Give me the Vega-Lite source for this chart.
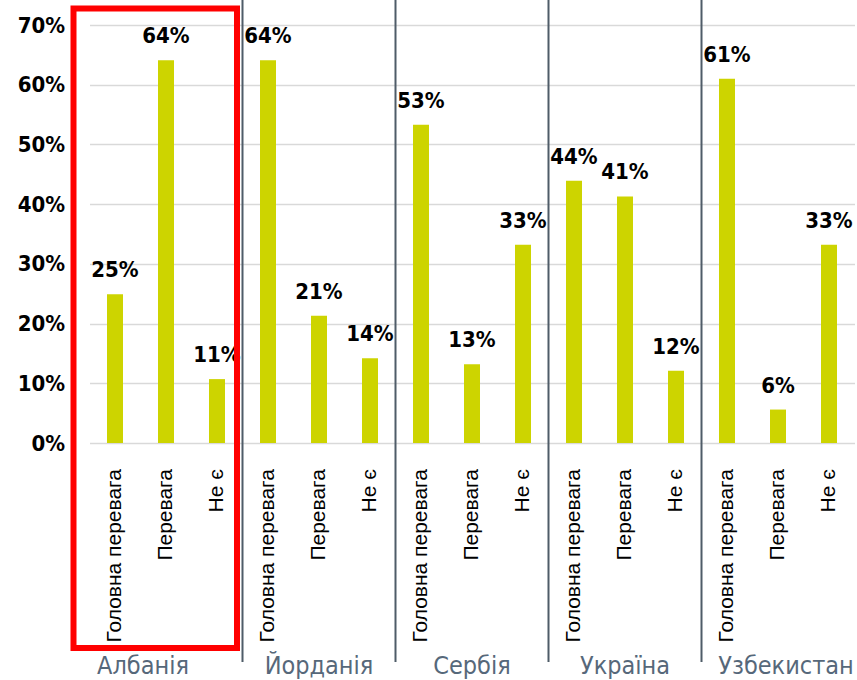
{
  "$schema": "https://vega.github.io/schema/vega-lite/v6.json",
  "width": 765,
  "height": 418,
  "autosize": {"type": "none"},
  "padding": {"left": 89.5, "top": 25, "right": 2.5, "bottom": 237},
  "background": "white",
  "config": {"view": {"stroke": null}},
  "datasets": {
    "bars": [
      {"country": "Албанія", "category": "Головна перевага", "value": 0.249},
      {"country": "Албанія", "category": "Перевага", "value": 0.641},
      {"country": "Албанія", "category": "Не є", "value": 0.107},
      {"country": "Йорданія", "category": "Головна перевага", "value": 0.641},
      {"country": "Йорданія", "category": "Перевага", "value": 0.213},
      {"country": "Йорданія", "category": "Не є", "value": 0.142},
      {"country": "Сербія", "category": "Головна перевага", "value": 0.533},
      {"country": "Сербія", "category": "Перевага", "value": 0.132},
      {"country": "Сербія", "category": "Не є", "value": 0.332},
      {"country": "Україна", "category": "Головна перевага", "value": 0.439},
      {"country": "Україна", "category": "Перевага", "value": 0.413},
      {"country": "Україна", "category": "Не є", "value": 0.121},
      {"country": "Узбекистан", "category": "Головна перевага", "value": 0.61},
      {"country": "Узбекистан", "category": "Перевага", "value": 0.056},
      {"country": "Узбекистан", "category": "Не є", "value": 0.332}
    ],
    "separators": [
      {"country": "Йорданія"},
      {"country": "Сербія"},
      {"country": "Україна"},
      {"country": "Узбекистан"}
    ],
    "highlight": [
      {"country": "Албанія"}
    ]
  },
  "layer": [
    {
      "data": {"name": "bars"},
      "mark": {"type": "bar", "width": 16, "color": "#cdd400"},
      "encoding": {
        "x": {
          "field": "country", "type": "nominal",
          "sort": ["Албанія", "Йорданія", "Сербія", "Україна", "Узбекистан"],
          "scale": {"domain": ["Албанія", "Йорданія", "Сербія", "Україна", "Узбекистан"], "paddingInner": 0, "paddingOuter": 0},
          "axis": {
            "title": null, "orient": "bottom", "offset": 205, "ticks": false, "domain": false, "grid": false,
            "labelAngle": 0, "labelPadding": 25, "labelBaseline": "alphabetic",
            "labelFont": "DejaVu Sans Condensed, DejaVu Sans", "labelFontSize": 25,
            "labelColor": "#56687a", "labelLimit": 0,
            "labelOffset": {"condition": [{"test": "datum.value === 'Албанія'", "value": -23}, {"test": "datum.value === 'Узбекистан'", "value": 8}], "value": 0}
          }
        },
        "xOffset": {
          "field": "category", "type": "nominal",
          "sort": ["Головна перевага", "Перевага", "Не є"],
          "scale": {"domain": ["Головна перевага", "Перевага", "Не є"], "paddingInner": 0, "paddingOuter": 0}
        },
        "y": {
          "field": "value", "type": "quantitative",
          "scale": {"domain": [0, 0.7]},
          "axis": {
            "title": null, "values": [0, 0.1, 0.2, 0.3, 0.4, 0.5, 0.6, 0.7], "format": ".0%",
            "ticks": false, "domain": false, "grid": true, "gridColor": "#d9d9d9", "gridWidth": 1.5,
            "labelPadding": 25, "labelFont": "DejaVu Sans Condensed, DejaVu Sans", "labelFontWeight": "bold", "labelFontSize": 22,
            "labelColor": "#000000"
          }
        }
      }
    },
    {
      "data": {"name": "bars"},
      "mark": {"type": "text", "baseline": "alphabetic", "dy": -17, "font": "DejaVu Sans Condensed, DejaVu Sans", "fontWeight": "bold", "fontSize": 22, "color": "#000000"},
      "encoding": {
        "x": {"field": "country", "type": "nominal"},
        "xOffset": {"field": "category", "type": "nominal"},
        "y": {"field": "value", "type": "quantitative"},
        "text": {"field": "value", "type": "quantitative", "format": ".0%"}
      }
    },
    {
      "data": {"name": "bars"},
      "mark": {"type": "text", "angle": 270, "align": "right", "baseline": "middle", "yOffset": 26, "font": "Liberation Sans", "fontSize": 21, "color": "#000000"},
      "encoding": {
        "x": {"field": "country", "type": "nominal"},
        "xOffset": {"field": "category", "type": "nominal"},
        "y": {"datum": 0, "type": "quantitative"},
        "text": {"field": "category", "type": "nominal"}
      }
    },
    {
      "data": {"name": "separators"},
      "mark": {"type": "rule", "color": "#4f5c68", "strokeWidth": 2, "yOffset": -25, "y2Offset": 219},
      "encoding": {
        "x": {"field": "country", "type": "nominal", "bandPosition": 0},
        "y": {"datum": 0.7, "type": "quantitative"},
        "y2": {"datum": 0}
      }
    },
    {
      "data": {"name": "highlight"},
      "mark": {"type": "rect", "fill": null, "fillOpacity": 0, "stroke": "#ff0000", "strokeWidth": 6, "xOffset": -16, "x2Offset": 71, "yOffset": -16.5, "y2Offset": 205},
      "encoding": {
        "x": {"field": "country", "type": "nominal", "bandPosition": 0},
        "x2": {"field": "country"},
        "y": {"datum": 0.7, "type": "quantitative"},
        "y2": {"datum": 0}
      }
    }
  ]
}
